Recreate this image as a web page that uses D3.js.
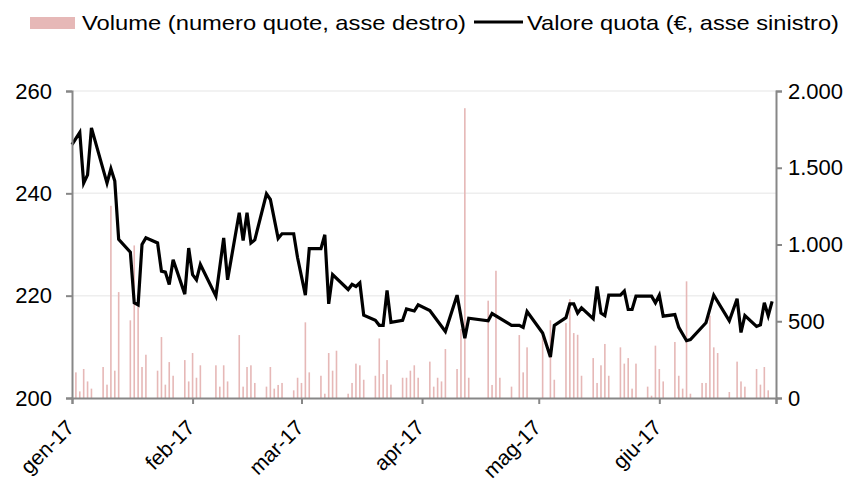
<!doctype html>
<html>
  <head>
    <meta charset="utf-8">
    <script src="https://cdnjs.cloudflare.com/ajax/libs/d3/7.8.5/d3.min.js"></script>
    <style>
      body { margin: 0; background: #fff; }
      svg text { font-family: "Liberation Sans", Arial, sans-serif; fill: #000; }
    </style>
  </head>
  <body>
    <svg id="chart" width="857" height="480"></svg>
    <script>
        // valore quota (asse sinistro)
        var quotaDates = ["2017-01-01","2017-01-03","2017-01-04","2017-01-05","2017-01-06","2017-01-10","2017-01-11","2017-01-12","2017-01-13","2017-01-16",
            "2017-01-17","2017-01-18","2017-01-19","2017-01-20","2017-01-23","2017-01-24","2017-01-25","2017-01-26","2017-01-27","2017-01-30",
            "2017-01-31","2017-02-01","2017-02-02","2017-02-03","2017-02-07","2017-02-09","2017-02-10","2017-02-13","2017-02-14","2017-02-15",
            "2017-02-16","2017-02-17","2017-02-20","2017-02-21","2017-02-23","2017-02-24","2017-02-27","2017-02-28","2017-03-02","2017-03-03",
            "2017-03-06","2017-03-07","2017-03-08","2017-03-09","2017-03-13","2017-03-14","2017-03-15","2017-03-16","2017-03-17","2017-03-20",
            "2017-03-21","2017-03-22","2017-03-23","2017-03-24","2017-03-27","2017-03-28","2017-03-30","2017-03-31","2017-04-03","2017-04-07",
            "2017-04-10","2017-04-12","2017-04-13","2017-04-18","2017-04-19","2017-04-24","2017-04-26","2017-04-27","2017-04-28","2017-05-02",
            "2017-05-04","2017-05-05","2017-05-08","2017-05-09","2017-05-10","2017-05-11","2017-05-12","2017-05-15","2017-05-16","2017-05-17",
            "2017-05-18","2017-05-19","2017-05-22","2017-05-23","2017-05-24","2017-05-25","2017-05-26","2017-05-30","2017-05-31","2017-06-01",
            "2017-06-02","2017-06-05","2017-06-06","2017-06-08","2017-06-09","2017-06-13","2017-06-15","2017-06-19","2017-06-21","2017-06-22",
            "2017-06-23","2017-06-26","2017-06-27","2017-06-28","2017-06-29","2017-06-30"];
        var quotaValues = [249.5,251.9,242.0,243.6,252.8,242.0,244.8,242.4,231.0,228.5,
            218.6,218.2,230.0,231.3,230.3,224.8,224.6,222.2,227.0,220.3,
            229.3,224.1,223.1,226.1,219.9,231.3,223.1,236.2,230.8,236.2,
            230.3,230.9,239.9,238.8,231.2,232.1,232.1,227.4,220.1,229.2,
            229.2,231.9,218.4,224.1,221.2,222.2,221.8,222.5,216.2,215.2,
            214.2,214.2,221.0,214.8,215.2,217.4,217.0,218.2,217.1,213.0,
            220.1,211.7,215.6,215.1,216.5,214.2,214.2,213.8,216.9,212.7,
            208.0,214.2,215.7,218.4,218.4,216.6,217.6,215.5,221.8,216.6,
            216.1,220.1,220.1,220.9,217.3,217.3,219.9,219.9,218.6,220.1,
            216.0,216.3,213.8,211.2,211.4,214.7,220.1,215.1,219.4,212.8,
            216.1,214.0,214.3,218.6,216.1,218.9];

        // volume (numero quote, asse destro)
        var volDates = ["2017-01-02","2017-01-03","2017-01-04","2017-01-05","2017-01-06","2017-01-09","2017-01-10","2017-01-11","2017-01-12","2017-01-13",
            "2017-01-16","2017-01-17","2017-01-18","2017-01-19","2017-01-20","2017-01-23","2017-01-24","2017-01-25","2017-01-26","2017-01-27",
            "2017-01-30","2017-01-31","2017-02-01","2017-02-02","2017-02-03","2017-02-07","2017-02-08","2017-02-09","2017-02-10","2017-02-13",
            "2017-02-14","2017-02-15","2017-02-16","2017-02-17","2017-02-20","2017-02-21","2017-02-22","2017-02-23","2017-02-24","2017-02-27",
            "2017-02-28","2017-03-01","2017-03-02","2017-03-03","2017-03-06","2017-03-07","2017-03-08","2017-03-09","2017-03-10","2017-03-13",
            "2017-03-14","2017-03-15","2017-03-16","2017-03-17","2017-03-20","2017-03-21","2017-03-22","2017-03-23","2017-03-24","2017-03-27",
            "2017-03-28","2017-03-29","2017-03-30","2017-03-31","2017-04-03","2017-04-04","2017-04-05","2017-04-06","2017-04-07","2017-04-10",
            "2017-04-11","2017-04-12","2017-04-13","2017-04-18","2017-04-19","2017-04-20","2017-04-21","2017-04-24","2017-04-26","2017-04-27",
            "2017-04-28","2017-05-02","2017-05-04","2017-05-05","2017-05-08","2017-05-09","2017-05-10","2017-05-11","2017-05-12","2017-05-15",
            "2017-05-16","2017-05-17","2017-05-18","2017-05-19","2017-05-22","2017-05-23","2017-05-24","2017-05-25","2017-05-26","2017-05-29",
            "2017-05-30","2017-05-31","2017-06-01","2017-06-02","2017-06-05","2017-06-06","2017-06-07","2017-06-08","2017-06-09","2017-06-12",
            "2017-06-13","2017-06-14","2017-06-15","2017-06-16","2017-06-19","2017-06-21","2017-06-22","2017-06-23","2017-06-26","2017-06-27",
            "2017-06-28","2017-06-29"];
        var volValues = [167,43,189,108,61,202,87,1252,178,690,
            506,994,601,202,282,178,397,87,234,145,
            247,108,293,132,213,213,74,213,108,410,
            74,202,213,98,74,202,61,85,98,50,
            132,98,493,167,145,28,293,178,308,28,
            98,224,213,119,145,388,156,247,87,132,
            132,178,213,132,237,74,132,108,319,189,
            450,1888,132,634,85,829,132,74,410,167,
            330,410,506,119,488,644,423,412,145,260,
            98,213,352,145,330,224,260,61,224,74,
            15,341,189,108,365,145,61,760,28,98,
            98,536,330,293,39,237,108,74,189,87,
            202,50];

        var monthTicks = ["2017-01-01","2017-02-01","2017-03-01","2017-04-01","2017-05-01","2017-06-01","2017-07-01"];
        var monthLabels = ["gen-17","feb-17","mar-17","apr-17","mag-17","giu-17",""];
        var leftTicks = [200, 220, 240, 260];
        var rightTicks = [0, 500, 1000, 1500, 2000];

        var parse = d3.timeParse("%Y-%m-%d");
        var itFormat = d3.formatLocale({decimal: ",", thousands: ".", grouping: [3], currency: ["€", ""]}).format(",");

        var svg = d3.select("#chart");
        var plotLeft = 72, plotRight = 776, plotTop = 91, plotBottom = 398;
        var axisColor = "#878787";

        var x = d3.scaleTime()
            .domain([parse("2017-01-01"), parse("2017-07-01")])
            .range([plotLeft, plotRight]);
        var yL = d3.scaleLinear().domain([200, 260]).range([plotBottom, plotTop]);
        var yR = d3.scaleLinear().domain([0, 2000]).range([plotBottom, plotTop]);

        // griglia
        svg.append("g").selectAll("line")
            .data(leftTicks.filter(d => d > 200))
            .enter()
            .append("line")
                .attr("x1", plotLeft).attr("x2", plotRight)
                .attr("y1", d => yL(d)).attr("y2", d => yL(d))
                .style("stroke", "#eeeeee")
                .style("stroke-width", 1.5);

        // barre volume
        svg.append("g").selectAll("rect")
            .data(volDates.map((d, i) => ({date: parse(d), v: volValues[i]})))
            .enter()
            .append("rect")
                .attr("x", d => x(d.date) - 0.8)
                .attr("width", 1.6)
                .attr("y", d => yR(d.v))
                .attr("height", d => plotBottom - yR(d.v))
                .style("fill", "#e6b8b7");

        // linea valore quota
        var line = d3.line()
            .x(d => x(d.date))
            .y(d => yL(d.v));
        svg.append("path")
            .datum(quotaDates.map((d, i) => ({date: parse(d), v: quotaValues[i]})))
            .attr("d", line)
            .style("fill", "none")
            .style("stroke", "#000")
            .style("stroke-width", 3.2)
            .style("stroke-linejoin", "miter");

        // assi
        var gL = svg.append("g")
            .attr("transform", "translate(" + plotLeft + ",0)")
            .call(d3.axisLeft(yL).tickValues(leftTicks).tickSize(6).tickPadding(14).tickFormat(d3.format("d")));
        var gR = svg.append("g")
            .attr("transform", "translate(" + plotRight + ",0)")
            .call(d3.axisRight(yR).tickValues(rightTicks).tickSize(6).tickPadding(6).tickFormat(itFormat));
        var gB = svg.append("g")
            .attr("transform", "translate(0," + plotBottom + ")")
            .call(d3.axisBottom(x).tickValues(monthTicks.map(parse)).tickSize(6).tickFormat((d, i) => monthLabels[i]));

        [gL, gR, gB].forEach(g => {
            g.select(".domain").style("stroke", axisColor).style("stroke-width", 2);
            g.selectAll(".tick line").style("stroke", axisColor).style("stroke-width", 2);
            g.selectAll("text").style("font-size", "22px").style("font-family", "Liberation Sans, Arial, sans-serif");
        });
        gB.selectAll("text")
            .style("font-size", "21px")
            .attr("text-anchor", "end")
            .attr("dy", null)
            .attr("y", 0)
            .attr("transform", "translate(3,31) rotate(-45)");

        // legenda
        var leg = svg.append("g");
        leg.append("rect")
            .attr("x", 30).attr("y", 17).attr("width", 45).attr("height", 12)
            .style("fill", "#e6b8b7");
        leg.append("text")
            .attr("x", 82).attr("y", 30)
            .attr("textLength", 384).attr("lengthAdjust", "spacingAndGlyphs")
            .style("font-size", "21px")
            .text("Volume (numero quote, asse destro)");
        leg.append("line")
            .attr("x1", 474).attr("x2", 523).attr("y1", 22).attr("y2", 22)
            .style("stroke", "#000").style("stroke-width", 3);
        leg.append("text")
            .attr("x", 527).attr("y", 30)
            .attr("textLength", 312).attr("lengthAdjust", "spacingAndGlyphs")
            .style("font-size", "21px")
            .text("Valore quota (€, asse sinistro)");
    </script>
  </body>
</html>
